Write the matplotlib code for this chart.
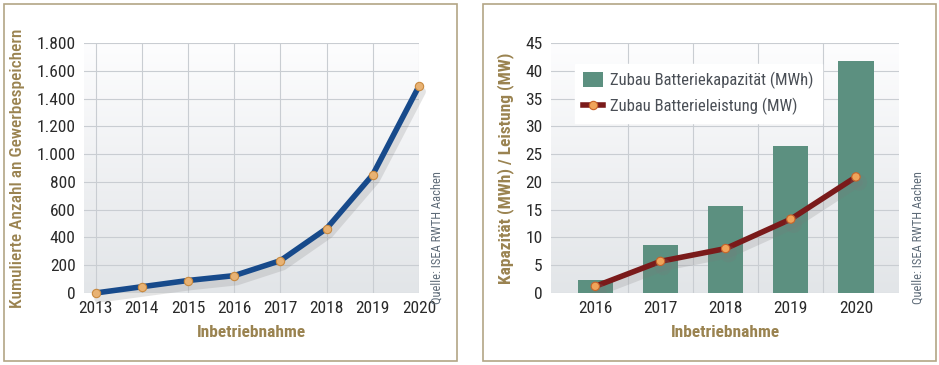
import numpy as np
import matplotlib
matplotlib.use("Agg")
import matplotlib.pyplot as plt
import matplotlib.patheffects as pe
from matplotlib.patches import Rectangle, Patch
from matplotlib.lines import Line2D
from matplotlib import font_manager
from matplotlib.colors import LinearSegmentedColormap

# ---- data ----
years_left = [2013, 2014, 2015, 2016, 2017, 2018, 2019, 2020]
cum_count = [0, 45, 90, 125, 233, 464, 852, 1490]
left_yticks = [0, 200, 400, 600, 800, 1000, 1200, 1400, 1600, 1800]
left_ylabels = ["0", "200", "400", "600", "800", "1.000", "1.200", "1.400", "1.600", "1.800"]

years_right = ["2016", "2017", "2018", "2019", "2020"]
capacity_mwh = [2.4, 8.6, 15.6, 26.4, 41.8]
power_mw = [1.2, 5.7, 8.0, 13.3, 20.9]
right_yticks = [0, 5, 10, 15, 20, 25, 30, 35, 40, 45]

names = {f.name for f in font_manager.fontManager.ttflist}
fam = [f for f in ["Roboto Condensed", "Liberation Sans Narrow", "Open Sans Condensed"] if f in names] + ["DejaVu Sans"]
plt.rcParams['font.family'] = fam

W, H = 939, 365
fig = plt.figure(figsize=(W / 100, H / 100), dpi=100)

def fx(px): return px / W
def fy(py): return 1 - py / H

# panel borders
for x0, x1 in [(4, 457), (483, 936)]:
    fig.patches.append(Rectangle((fx(x0), fy(361)), fx(x1 - x0), (361 - 4) / H,
                                 transform=fig.transFigure, fill=False,
                                 edgecolor="#b3a585", linewidth=1.2))

tick_col = "#2a2a2a"
lab_col = "#9a8350"
grid_col = "#c9cdd2"

grad = np.linspace(0, 1, 256).reshape(-1, 1)
cmap = LinearSegmentedColormap.from_list("g", ["#fdfdfe", "#e2e5e8"])

shadow = [pe.SimpleLineShadow(offset=(2, -4), shadow_color="#7a7a7a", alpha=0.2, linewidth=6),
          pe.Normal()]

def setup(ax):
    ax.imshow(grad, extent=[0, 1, 0, 1], origin="upper", transform=ax.transAxes, cmap=cmap,
              aspect="auto", zorder=0)
    for s in ax.spines.values():
        s.set_visible(False)
    ax.tick_params(length=0, labelsize=12.5, colors=tick_col, pad=6)

# ---- left ----
axL = fig.add_axes([fx(84), fy(293), fx(419 - 84), (293 - 43) / H])
setup(axL)
axL.set_xlim(2012.75, 2020)
axL.set_ylim(0, 1800)
axL.set_yticks(left_yticks)
axL.set_yticklabels(left_ylabels)
axL.set_xticks(years_left)
for v in left_yticks:
    axL.axhline(v, color=grid_col, lw=0.8, zorder=1)
for v in years_left:
    axL.axvline(v, color=grid_col, lw=0.8, zorder=1)
axL.plot(years_left, cum_count, color="#174a8b", lw=4, zorder=3, clip_on=False,
         solid_capstyle="round", path_effects=shadow)
axL.plot(years_left, cum_count, "o", ms=6, mfc="#e8b273", mec="#c98a40", mew=0.8,
         zorder=4, clip_on=False)
axL.set_ylabel("Kumulierte Anzahl an Gewerbespeichern", color=lab_col, fontsize=12.5,
               fontweight="medium", labelpad=8)
axL.set_xlabel("Inbetriebnahme", color=lab_col, fontsize=12.5, fontweight="bold", labelpad=6)
fig.text(fx(437), fy(238), "Quelle: ISEA RWTH Aachen", rotation=90, ha="center", va="center",
         fontsize=9, color="#5e6b78")

# ---- right ----
axR = fig.add_axes([fx(551), fy(293), fx(899 - 551), (293 - 43) / H])
setup(axR)
xr = np.arange(len(years_right))
axR.set_xlim(-0.68, len(years_right) - 1 + 0.66)
axR.set_ylim(0, 45)
axR.set_yticks(right_yticks)
axR.set_xticks(xr)
axR.set_xticklabels(years_right)
for v in right_yticks:
    axR.axhline(v, color=grid_col, lw=0.8, zorder=1)
for v in xr[:-1] + 0.5:
    axR.axvline(v, color=grid_col, lw=0.8, zorder=1)
axR.bar(xr, capacity_mwh, width=0.54, color="#5c9080", zorder=2)
axR.plot(xr, power_mw, color="#7a1a1a", lw=4, zorder=3, marker="o", ms=6,
         mfc="#f0a45a", mec="#c8642a", mew=0.8, solid_capstyle="round",
         path_effects=shadow)
h_bar = Patch(facecolor="#5c9080", edgecolor="none")
h_line = Line2D([], [], color="#7a1a1a", lw=4, marker="o", ms=6, mfc="#f0a45a", mec="#c8642a", mew=0.8)
leg = axR.legend(handles=[h_bar, h_line],
                 labels=["Zubau Batteriekapazität (MWh)", "Zubau Batterieleistung (MW)"],
                 loc="upper left", bbox_to_anchor=(0.045, 0.95),
                 frameon=True, fancybox=False, framealpha=1, edgecolor="white",
                 fontsize=12, handlelength=1.2, handleheight=1.0, handletextpad=0.4,
                 borderpad=0.5, labelspacing=0.5)
for t in leg.get_texts():
    t.set_color("#4a4f56")
leg.set_zorder(5)
axR.set_ylabel("Kapazität (MWh) / Leistung (MW)", color=lab_col, fontsize=12.5,
               fontweight="bold", labelpad=8)
axR.set_xlabel("Inbetriebnahme", color=lab_col, fontsize=12.5, fontweight="bold", labelpad=6)
fig.text(fx(918), fy(238), "Quelle: ISEA RWTH Aachen", rotation=90, ha="center", va="center",
         fontsize=9, color="#5e6b78")

fig.savefig("out.png", dpi=100, facecolor="white")
